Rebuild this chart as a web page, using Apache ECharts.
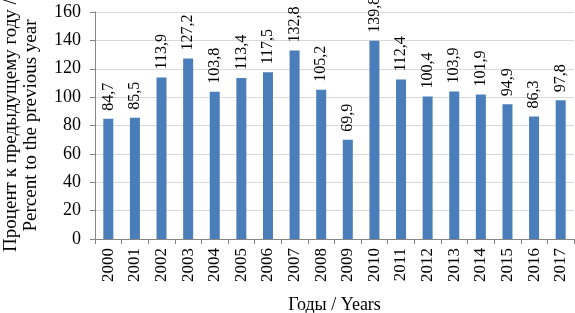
<!DOCTYPE html>
<html><head><meta charset="utf-8">
<script src="https://cdn.jsdelivr.net/npm/echarts@6/dist/echarts.min.js"></script>
<style>html,body{margin:0;padding:0;background:#fff}#c{width:575px;height:313px}</style>
</head><body><div id="c"></div>
<script>
const years = ['2000','2001','2002','2003','2004','2005','2006','2007','2008','2009','2010','2011','2012','2013','2014','2015','2016','2017'];
const values = [84.7,85.5,113.9,127.2,103.8,113.4,117.5,132.8,105.2,69.9,139.8,112.4,100.4,103.9,101.9,94.9,86.3,97.8];
const yTicks = {min:0, max:160, interval:20};
const xTitle = 'Годы / Years';
const yTitle = 'Процент к предыдущему году /\nPercent to the previous year';
const font = 'Liberation Serif';
const chart = echarts.init(document.getElementById('c'));
chart.setOption({
  animation:false,
  grid:{left:95,right:1,top:12,bottom:74,outerBoundsMode:'none',containLabel:false},
  xAxis:{type:'category',data:years,
    axisLine:{lineStyle:{color:'#868686'}},
    axisTick:{show:true,length:5,lineStyle:{color:'#868686'}},
    axisLabel:{rotate:90,fontFamily:font,fontSize:17,color:'#000',margin:9},
    name:xTitle,nameLocation:'middle',nameGap:57,
    nameTextStyle:{fontFamily:font,fontSize:18,color:'#000'}},
  yAxis:{type:'value',min:yTicks.min,max:yTicks.max,interval:yTicks.interval,
    axisLine:{show:true,lineStyle:{color:'#868686'}},
    axisTick:{show:true,length:5,lineStyle:{color:'#868686'}},
    splitLine:{lineStyle:{color:'#d9d9d9'}},
    axisLabel:{fontFamily:font,fontSize:18,color:'#000',margin:14},
    name:yTitle,nameLocation:'middle',nameGap:54,
    nameTextStyle:{fontFamily:font,fontSize:19,color:'#000',lineHeight:20,align:'center'}},
  series:[{type:'bar',data:values,barWidth:10,
    itemStyle:{color:'#4a7ebb'},
    label:{show:true,position:'top',rotate:90,distance:8,align:'left',verticalAlign:'middle',
      fontFamily:font,fontSize:16,color:'#000',
      formatter:p=>String(p.value).replace('.',',')}}]
});
</script></body></html>
